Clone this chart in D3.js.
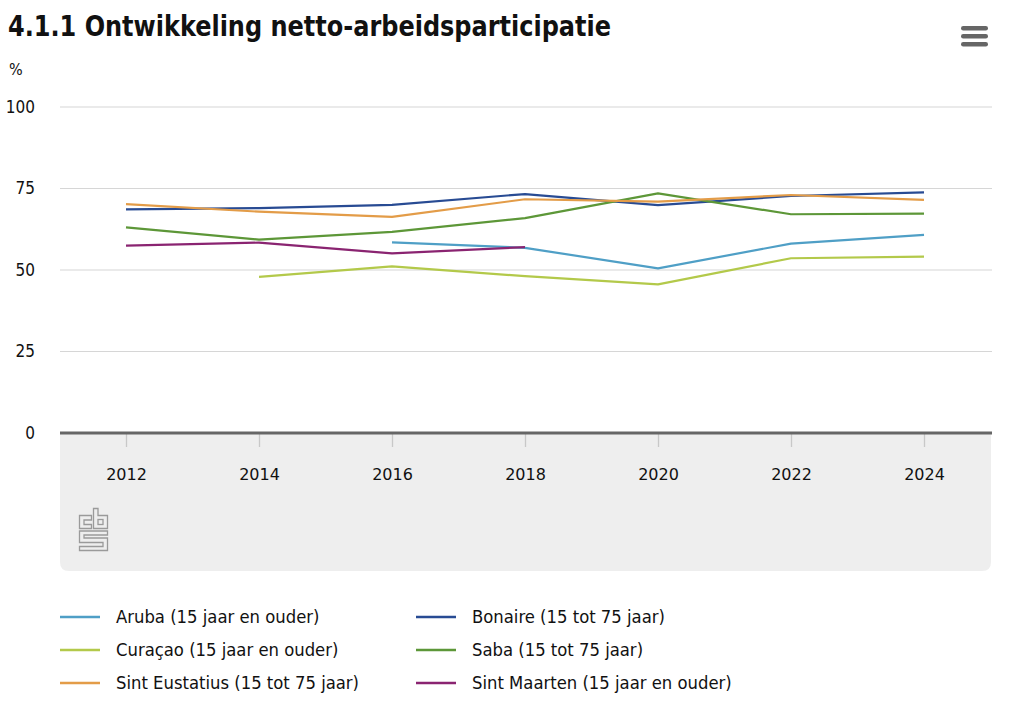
<!DOCTYPE html>
<html><head><meta charset="utf-8">
<script src="https://cdn.jsdelivr.net/npm/d3@7"></script>
<style>
body{margin:0;background:#fff;}
svg{display:block;}
</style></head>
<body>
<svg id="chart" width="1023" height="710"></svg>
<script>
const years = [2012, 2014, 2016, 2018, 2020, 2022, 2024];
const yTicks = [0, 25, 50, 75, 100];
const seriesNames = ["Aruba (15 jaar en ouder)", "Bonaire (15 tot 75 jaar)", "Curaçao (15 jaar en ouder)", "Saba (15 tot 75 jaar)", "Sint Eustatius (15 tot 75 jaar)", "Sint Maarten (15 jaar en ouder)"];
const seriesColors = ["#4f9fc6", "#284b93", "#b3c94a", "#5d9738", "#e39c48", "#8a2471"];
const aruba        = [null, null, 58.5, 56.8, 50.5, 58.1, 60.8];
const bonaire      = [68.6, 69.0, 70.0, 73.3, 69.9, 72.7, 73.8];
const curacao      = [null, 47.9, 51.1, 48.1, 45.6, 53.6, 54.1];
const saba         = [63.1, 59.3, 61.7, 65.9, 73.5, 67.1, 67.3];
const sintEustatius= [70.2, 67.9, 66.3, 71.7, 71.0, 73.0, 71.5];
const sintMaarten  = [57.5, 58.4, 55.1, 57.0, null, null, null];
const seriesValues = [aruba, bonaire, curacao, saba, sintEustatius, sintMaarten];

const svg = d3.select("#chart");
const font = "'DejaVu Sans Condensed','Liberation Sans Narrow',sans-serif";

// title
svg.append("text").attr("x", 8).attr("y", 36).text("4.1.1 Ontwikkeling netto-arbeidsparticipatie")
  .attr("font-family", font).attr("font-weight", "bold").attr("font-size", 29).attr("fill", "#111")
  .attr("textLength", 603).attr("lengthAdjust", "spacingAndGlyphs");

// menu icon
[0,1,2].forEach(i => svg.append("rect").attr("x", 961).attr("y", 26 + i*8).attr("width", 27).attr("height", 4.5)
  .attr("rx", 2.2).attr("fill", "#666"));

const x = d3.scaleLinear().domain([2012, 2024]).range([126, 924]);
const y = d3.scaleLinear().domain([0, 100]).range([433, 107]);

// grey bottom panel
const pL = 60, pR = 991, pT = 433, pB = 571, r = 9;
svg.append("path").attr("d", `M${pL},${pT}H${pR}V${pB-r}Q${pR},${pB} ${pR-r},${pB}H${pL+r}Q${pL},${pB} ${pL},${pB-r}Z`).attr("fill", "#eeeeee");

// gridlines
svg.append("g").selectAll("line").data(yTicks.filter(d => d > 0)).join("line")
  .attr("x1", 60).attr("x2", 992).attr("y1", d => y(d)).attr("y2", d => y(d))
  .attr("stroke", "#d6d6d6").attr("stroke-width", 1.2);

// y axis labels
const yAxis = d3.axisLeft(y).tickValues(yTicks).tickSize(0).tickPadding(0);
const gya = svg.append("g").attr("transform", "translate(35,0)").call(yAxis);
gya.select(".domain").remove();
gya.selectAll("text").attr("font-family", font).attr("font-size", 17).attr("fill", "#111").attr("dy", "0.32em");

svg.append("text").attr("x", 9).attr("y", 75).text("%").attr("font-family", font).attr("font-size", 16).attr("fill", "#111");

// x axis
const xAxis = d3.axisBottom(x).tickValues(years).tickFormat(d3.format("d")).tickSize(14).tickPadding(22);
const gxa = svg.append("g").attr("transform", "translate(0,433)").call(xAxis);
gxa.select(".domain").remove();
gxa.selectAll(".tick line").attr("stroke", "#c8c8c8").attr("stroke-width", 1.3);
gxa.selectAll("text").attr("font-family", "'DejaVu Sans',sans-serif").attr("font-size", 16).attr("font-weight", 500).attr("fill", "#111");
svg.append("line").attr("x1", 60).attr("x2", 992).attr("y1", 433).attr("y2", 433).attr("stroke", "#666").attr("stroke-width", 3);

// lines
const line = d3.line().defined(d => d.v != null).x(d => x(d.yr)).y(d => y(d.v));
seriesValues.forEach((vals, i) => {
  svg.append("path").datum(years.map((yr, j) => ({yr, v: vals[j]})))
    .attr("d", line).attr("fill", "none").attr("stroke", seriesColors[i]).attr("stroke-width", 2.2)
    .attr("stroke-linejoin", "round");
});

// cbs logo
const lg = svg.append("g").attr("transform", "translate(79,508)").attr("fill", "none").attr("stroke", "#9a9a9a").attr("stroke-width", 1.3);
lg.append("path").attr("d", "M0.5,7.5H12.5V12H5V16.5H12.5V20.5H0.5Z");
lg.append("path").attr("d", "M14.5,0.5H19V7.5H28.5V20.5H14.5Z");
lg.append("rect").attr("x", 19).attr("y", 11.5).attr("width", 5).attr("height", 5);
lg.append("path").attr("d", "M0.5,23H28.5V27H5V30H28.5V42.5H0.5V38.5H24V34.5H0.5Z");

// legend
const legend = svg.append("g");
seriesNames.forEach((name, i) => {
  const col = i % 2, row = Math.floor(i / 2);
  const lx = col === 0 ? 60 : 416, ly = 617 + row * 33;
  legend.append("line").attr("x1", lx).attr("x2", lx + 40).attr("y1", ly).attr("y2", ly)
    .attr("stroke", seriesColors[i]).attr("stroke-width", 2.5);
  legend.append("text").attr("x", lx + 56).attr("y", ly).attr("dy", "0.35em").text(name)
    .attr("font-family", font).attr("font-size", 18.3).attr("fill", "#111");
});
</script>
</body></html>
